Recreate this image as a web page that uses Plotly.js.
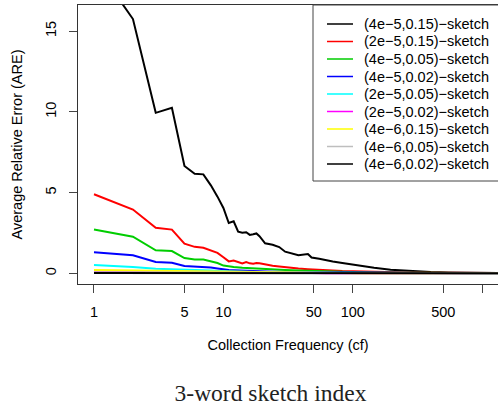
<!DOCTYPE html>
<html>
<head>
<meta charset="utf-8">
<script src="https://cdn.plot.ly/plotly-3.0.1.min.js"></script>
<style>
html,body{margin:0;padding:0;overflow:hidden;background:#fff;}
#chart{width:498px;height:406px;}
</style>
</head>
<body>
<div id="chart"></div>
<script>
// ---- data ----
var cfFine = [1,2,3,4,5,6,7,8,9,10,11,12,13,14,15,16,17,18,19,20,21,24,27,30,34,38,45,48,55,62,70,83,100,111,125,146,196,263,400,550,700,1400];
var cfCoarse = [1,2,3,4,5,6,7,8,9,10,11,12,14,16,19,24,30,38,48,62,83,111,146,196,263,400,700,1400];

var s_4e5_015 = [19.2,15.75,9.94,10.25,6.65,6.17,6.13,5.45,4.75,4.05,3.12,3.22,2.58,2.52,2.55,2.38,2.42,2.47,2.30,2.05,1.86,1.77,1.63,1.34,1.23,1.12,1.20,0.98,0.90,0.81,0.74,0.64,0.55,0.47,0.40,0.35,0.23,0.15,0.08,0.06,0.04,0.015];
var s_2e5_015 = [4.90,3.95,2.82,2.71,1.84,1.64,1.58,1.42,1.27,1.00,0.74,0.80,0.68,0.62,0.70,0.62,0.60,0.64,0.62,0.58,0.55,0.47,0.42,0.37,0.33,0.30,0.26,0.24,0.21,0.19,0.17,0.14,0.12,0.11,0.10,0.09,0.07,0.05,0.04,0.03,0.025,0.015];
var s_4e5_005 = [2.72,2.27,1.43,1.38,0.95,0.86,0.86,0.75,0.64,0.48,0.42,0.39,0.34,0.31,0.28,0.24,0.20,0.17,0.14,0.12,0.09,0.07,0.06,0.05,0.04,0.03,0.02,0.01];
var s_4e5_002 = [1.30,1.12,0.70,0.66,0.45,0.43,0.40,0.36,0.30,0.24,0.20,0.19,0.16,0.14,0.12,0.10,0.08,0.07,0.06,0.05,0.04,0.03,0.03,0.02,0.02,0.015,0.01,0.01];
var s_2e5_005 = [0.52,0.40,0.28,0.26,0.22,0.20,0.19,0.17,0.15,0.13,0.12,0.11,0.10,0.09,0.08,0.06,0.05,0.04,0.04,0.03,0.02,0.02,0.02,0.015,0.01,0.01,0.01,0.005];
var s_2e5_002 = [0.15,0.12,0.09,0.08,0.07,0.06,0.06,0.05,0.05,0.04,0.04,0.04,0.03,0.03,0.03,0.02,0.02,0.02,0.015,0.01,0.01,0.01,0.01,0.01,0.005,0.005,0.005,0.005];
var s_4e6_015 = [0.21,0.18,0.15,0.14,0.12,0.11,0.10,0.09,0.08,0.07,0.07,0.06,0.05,0.05,0.04,0.04,0.03,0.03,0.02,0.02,0.015,0.01,0.01,0.01,0.01,0.005,0.005,0.005];
var s_4e6_005 = [0.07,0.06,0.05,0.045,0.04,0.035,0.03,0.03,0.025,0.025,0.02,0.02,0.02,0.015,0.015,0.01,0.01,0.01,0.01,0.008,0.006,0.005,0.005,0.004,0.004,0.003,0.003,0.002];
var s_4e6_002 = [0.02,0.018,0.015,0.014,0.012,0.011,0.01,0.01,0.009,0.008,0.008,0.007,0.006,0.006,0.005,0.004,0.004,0.003,0.003,0.003,0.002,0.002,0.002,0.002,0.001,0.001,0.001,0.001];

var seriesNames = ["(4e\u22125,0.15)\u2212sketch","(2e\u22125,0.15)\u2212sketch","(4e\u22125,0.05)\u2212sketch","(4e\u22125,0.02)\u2212sketch","(2e\u22125,0.05)\u2212sketch","(2e\u22125,0.02)\u2212sketch","(4e\u22126,0.15)\u2212sketch","(4e\u22126,0.05)\u2212sketch","(4e\u22126,0.02)\u2212sketch"];
var seriesX = [cfFine,cfFine,cfCoarse,cfCoarse,cfCoarse,cfCoarse,cfCoarse,cfCoarse,cfCoarse];
var seriesY = [s_4e5_015,s_2e5_015,s_4e5_005,s_4e5_002,s_2e5_005,s_2e5_002,s_4e6_015,s_4e6_005,s_4e6_002];
var seriesColors = ["#000000","#FF0000","#00CD00","#0000FF","#00FFFF","#FF00FF","#FFFF00","#BEBEBE","#000000"];

var xTickVals = [1,5,10,50,100,500,1000];
var xTickText = ["1","5","10","50","100","500",""];
var yTickVals = [0,5,10,15];

// ---- figure geometry ----
var W = 498, H = 406;
var mL = 78, mR = 0, mT = 5, mB = 122;
var pw = W - mL - mR, ph = H - mT - mB;
function px2paperX(px){ return (px - mL) / pw; }
function px2paperY(py){ return (H - mB - py) / ph; }

var FONT = "Liberation Sans, Arial, Helvetica, sans-serif";

var traces = seriesNames.map(function(n, i){
  return {type:"scatter", mode:"lines", x:seriesX[i], y:seriesY[i], name:n,
          line:{color:seriesColors[i], width:2}, showlegend:false, hoverinfo:"skip"};
});

// custom legend (R-style)
var shapes = [{type:"rect", xref:"paper", yref:"paper",
  x0:px2paperX(313), x1:px2paperX(520), y0:px2paperY(181), y1:px2paperY(5),
  line:{color:"#444", width:1}, fillcolor:"#ffffff", layer:"above"}];
var annotations = [];
seriesNames.forEach(function(n, i){
  var yc = 24 + i*17.5;
  shapes.push({type:"line", xref:"paper", yref:"paper",
    x0:px2paperX(327), x1:px2paperX(353), y0:px2paperY(yc), y1:px2paperY(yc),
    line:{color:seriesColors[i], width:1.5}, layer:"above"});
  annotations.push({xref:"paper", yref:"paper", x:px2paperX(362), y:px2paperY(yc),
    xanchor:"left", yanchor:"middle", text:n, showarrow:false,
    font:{family:FONT, size:14.5, color:"#000"}});
});

var layout = {
  width:W, height:H,
  margin:{l:mL, r:mR, t:mT, b:mB, pad:0},
  paper_bgcolor:"#fff", plot_bgcolor:"#fff",
  showlegend:false,
  font:{family:FONT, size:14.5, color:"#000"},
  title:{text:"3-word sketch index", font:{family:"Liberation Serif, Times New Roman, serif", size:23.5, color:"#222"},
         x:270.5/W, xref:"container", xanchor:"center", y:1-393/H, yref:"container", yanchor:"middle"},
  xaxis:{type:"log", range:[-0.1236, 3.122], tickvals:xTickVals, ticktext:xTickText,
         ticks:"outside", ticklen:8, tickcolor:"#444", tickwidth:1,
         showline:true, linecolor:"#333", linewidth:1, mirror:true,
         showgrid:false, zeroline:false, ticklabelstandoff:7,
         tickfont:{family:FONT, size:14.5, color:"#000"},
         title:{text:"Collection Frequency (cf)", font:{family:FONT, size:14.5, color:"#000"}, standoff:20}},
  yaxis:{range:[-0.66, 16.62], tickvals:yTickVals, tickangle:-90,
         ticks:"outside", ticklen:8, tickcolor:"#444", tickwidth:1,
         showline:true, linecolor:"#333", linewidth:1, mirror:false,
         showgrid:false, zeroline:false, ticklabelstandoff:7,
         tickfont:{family:FONT, size:14.5, color:"#000"},
         title:{text:"Average Relative Error (ARE)", font:{family:FONT, size:14.5, color:"#000"}, standoff:17}},
  shapes:shapes, annotations:annotations
};

Plotly.newPlot("chart", traces, layout, {staticPlot:true, displayModeBar:false});
</script>
</body>
</html>
